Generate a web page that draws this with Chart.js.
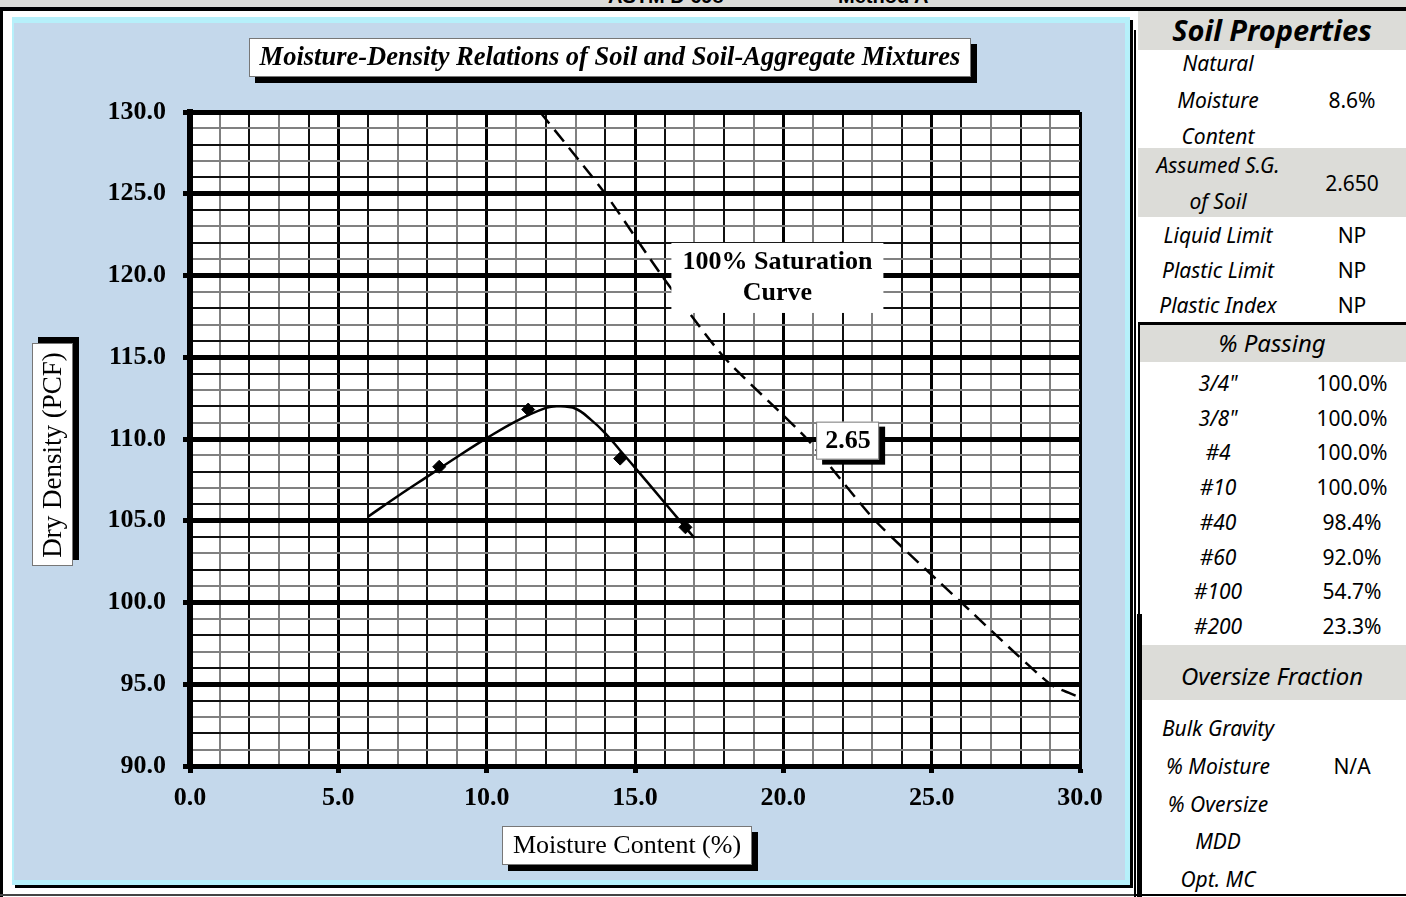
<!DOCTYPE html>
<html>
<head>
<meta charset="utf-8">
<script src="https://cdn.jsdelivr.net/npm/chart.js@4/dist/chart.umd.min.js"></script>
<style>
  html, body { margin: 0; padding: 0; background: #fff; }
  body { width: 1406px; height: 897px; position: relative; overflow: hidden; font-family: "Noto Sans", sans-serif; }
  #topstrip { position: absolute; left: 0; top: 0; width: 1406px; height: 7px; background: #dcdcd8; overflow: hidden; }
  #topstrip span { position: absolute; top: -15px; font: bold 20px "Liberation Sans", sans-serif; color: #000; }
  #topbar { position: absolute; left: 0; top: 7px; width: 1406px; height: 4px; background: #000; }
  #leftbar { position: absolute; left: 0; top: 7px; width: 3px; height: 890px; background: #000; }
  #bottombar { position: absolute; left: 0; top: 894px; width: 1136px; height: 2px; background: #444; }
  #panel { position: absolute; left: 12px; top: 17px; width: 1111px; height: 857px;
           border-style: solid; border-color: #b6f0fa; border-width: 6px 5px 5px 2px;
           background: #c4d8eb; box-shadow: 3px 3px 0 #000; }
  #chart { display: block; }
  #sidebar { position: absolute; left: 1134px; top: 11px; width: 272px; height: 886px; }
  .vline { position: absolute; background: #000; }
  .band { position: absolute; left: 4px; width: 268px; background: #dcdcd8; }
  .cell { position: absolute; text-align: center; font-size: 21px; line-height: 30px; color: #000; white-space: nowrap; }
  .lab { left: 4px; width: 160px; font-style: italic; }
  .val { left: 164px; width: 108px; }
  .head { left: 4px; width: 268px; font-style: italic; font-size: 24px; }
</style>
</head>
<body>
<div id="topstrip"><span style="left:608px">ASTM D 698</span><span style="left:838px">Method A</span></div>
<div id="topbar"></div>
<div id="leftbar"></div>
<div id="bottombar"></div>
<div id="panel"><canvas id="chart" width="1111" height="857"></canvas></div>
<div id="sidebar"></div>

<script>
// compaction test points
var moisture = [8.4, 11.4, 14.5, 16.7];
var density = [108.3, 111.8, 108.8, 104.6];

// fitted moisture-density curve
var curveMoisture = [6.0, 7.0, 8.0, 9.0, 10.0, 11.0, 12.0, 12.4, 13.0, 13.5, 14.0, 14.5, 15.0, 16.0, 17.0];
var curveDensity = [105.25, 106.5, 107.7, 108.9, 110.05, 111.1, 111.9, 112.0, 111.85, 111.2, 110.35, 109.3, 108.25, 106.1, 103.95];

// zero air voids line, Gs = 2.65
var satMoisture = [11.8, 14.0, 15.9, 18.0, 20.8, 23.1, 26.0, 29.0, 30.0];
var satDensity = [130.0, 125.0, 120.0, 115.0, 110.0, 105.0, 100.0, 95.0, 94.2];

var xTicks = [0, 5, 10, 15, 20, 25, 30];
var yTicks = [90, 95, 100, 105, 110, 115, 120, 125, 130];

// side table
var propLabels = ['Liquid Limit', 'Plastic Limit', 'Plastic Index'];
var propValues = ['NP', 'NP', 'NP'];
var naturalMoisture = '8.6%';
var specificGravity = '2.650';
var sieveSizes = ['3/4"', '3/8"', '#4', '#10', '#40', '#60', '#100', '#200'];
var percentPassing = ['100.0%', '100.0%', '100.0%', '100.0%', '98.4%', '92.0%', '54.7%', '23.3%'];
var oversizeLabels = ['Bulk Gravity', '% Moisture', '% Oversize', 'MDD', 'Opt. MC'];
var oversizeValues = ['', 'N/A', '', '', ''];

function pts(xs, ys) {
	return xs.map(function(x, i){ return {x: x, y: ys[i]}; });
}

var serif = '"Liberation Serif", serif';

function isMajor(v, list) { return list.indexOf(v) >= 0; }

function drawBox(ctx, x, y, w, h, shadow) {
	if (shadow) {
		ctx.fillStyle = '#000';
		ctx.fillRect(x + shadow[0], y + shadow[1], w, h);
	}
	ctx.fillStyle = '#fff';
	ctx.fillRect(x, y, w, h);
	if (shadow) {
		ctx.strokeStyle = '#777';
		ctx.lineWidth = 1;
		ctx.strokeRect(x + 0.5, y + 0.5, w - 1, h - 1);
	}
}

var backdrop = {
	id: 'backdrop',
	beforeDraw: function(chart){
		var ctx = chart.ctx, a = chart.chartArea;
		ctx.save();
		ctx.fillStyle = '#c4d8eb';
		ctx.fillRect(0, 0, chart.width, chart.height);
		ctx.fillStyle = '#fff';
		ctx.fillRect(a.left, a.top, a.right - a.left, a.bottom - a.top);
		ctx.restore();
	}
};

var labels = {
	id: 'labels',
	afterDraw: function(chart){
		var ctx = chart.ctx, xs = chart.scales.x, ys = chart.scales.y;
		ctx.save();
		ctx.textAlign = 'center';
		ctx.textBaseline = 'middle';

		// title
		drawBox(ctx, 235, 15, 722, 39, [6, 6]);
		ctx.fillStyle = '#000';
		ctx.font = 'italic bold 26.5px ' + serif;
		ctx.fillText('Moisture-Density Relations of Soil and Soil-Aggregate Mixtures', 596, 35);

		// saturation curve note
		var cx = xs.getPixelForValue(19.8), cy = ys.getPixelForValue(119.85);
		drawBox(ctx, cx - 106, cy - 35, 212, 70, null);
		ctx.fillStyle = '#000';
		ctx.font = 'bold 26px ' + serif;
		ctx.fillText('100% Saturation', cx, cy - 16);
		ctx.fillText('Curve', cx, cy + 15);

		// specific gravity tag
		var gx = xs.getPixelForValue(22.15), gy = ys.getPixelForValue(109.9);
		drawBox(ctx, gx - 31, gy - 19, 63, 38, [6, 5]);
		ctx.fillStyle = '#000';
		ctx.font = 'bold 26px ' + serif;
		ctx.fillText('2.65', gx + 1, gy + 1);

		// x axis title
		drawBox(ctx, 488, 803, 250, 39, [6, 6]);
		ctx.fillStyle = '#000';
		ctx.font = '26px ' + serif;
		ctx.fillText('Moisture Content (%)', 613, 823);

		// y axis title
		drawBox(ctx, 18, 320, 41, 223, [6, -6]);
		ctx.translate(39, 432);
		ctx.rotate(-Math.PI / 2);
		ctx.fillStyle = '#000';
		ctx.font = '27px ' + serif;
		ctx.fillText('Dry Density (PCF)', 0, 1);
		ctx.restore();
	}
};

new Chart(document.getElementById('chart'), {
	type: 'scatter',
	data: {
		datasets: [
			{
				data: pts(satMoisture, satDensity),
				showLine: true,
				borderColor: '#000',
				borderWidth: 2.5,
				borderDash: [15, 8],
				pointRadius: 0,
				tension: 0.2
			},
			{
				data: pts(curveMoisture, curveDensity),
				showLine: true,
				borderColor: '#000',
				borderWidth: 2.5,
				pointRadius: 0,
				tension: 0.4
			},
			{
				data: pts(moisture, density),
				showLine: false,
				pointStyle: 'rectRot',
				pointRadius: 6.5,
				backgroundColor: '#000',
				borderColor: '#000'
			}
		]
	},
	options: {
		responsive: false,
		animation: false,
		layout: { padding: { top: 89, right: 45, left: 0, bottom: 0 } },
		plugins: { legend: { display: false }, tooltip: { enabled: false } },
		scales: {
			x: {
				type: 'linear', min: 0, max: 30,
				afterFit: function(s){ s.height = 114; },
				ticks: {
					stepSize: 1, autoSkip: false, maxRotation: 0, padding: 10, color: '#000',
					font: { family: serif, size: 26, weight: 'bold' },
					callback: function(v){ return isMajor(v, xTicks) ? v.toFixed(1) : ''; }
				},
				grid: {
					tickLength: 7,
					color: function(c){ var v = c.tick.value; return isMajor(v, xTicks) ? '#000' : (v % 2 ? '#808080' : '#111'); },
					lineWidth: function(c){ return isMajor(c.tick.value, xTicks) ? 3 : 2; },
					tickColor: function(c){ return isMajor(c.tick.value, xTicks) ? '#000' : 'rgba(0,0,0,0)'; },
					tickWidth: 5
				},
				border: { color: '#000', width: 5 }
			},
			y: {
				type: 'linear', min: 90, max: 130,
				afterFit: function(s){ s.width = 176; },
				ticks: {
					stepSize: 1, autoSkip: false, padding: 17, color: '#000',
					font: { family: serif, size: 26, weight: 'bold' },
					callback: function(v){ return isMajor(v, yTicks) ? v.toFixed(1) : ''; }
				},
				grid: {
					tickLength: 7,
					color: function(c){ var v = c.tick.value; return isMajor(v, yTicks) ? '#000' : (v % 2 ? '#808080' : '#111'); },
					lineWidth: function(c){ return isMajor(c.tick.value, yTicks) ? 5 : 2; },
					tickColor: function(c){ return isMajor(c.tick.value, yTicks) ? '#000' : 'rgba(0,0,0,0)'; },
					tickWidth: 5
				},
				border: { color: '#000', width: 6 }
			}
		}
	},
	plugins: [backdrop, labels]
});

// side table, positions relative to #sidebar (top = 11)
var side = document.getElementById('sidebar');
function add(cls, text, top, css) {
	var d = document.createElement('div');
	d.className = cls;
	d.textContent = text;
	d.style.top = top + 'px';
	if (css) d.style.cssText += css;
	side.appendChild(d);
	return d;
}
function band(top, h) {
	var d = document.createElement('div');
	d.className = 'band';
	d.style.top = top + 'px';
	d.style.height = h + 'px';
	side.appendChild(d);
}
function vline(l, t, w, h) {
	var d = document.createElement('div');
	d.className = 'vline';
	d.style.cssText = 'left:' + l + 'px;top:' + t + 'px;width:' + w + 'px;height:' + h + 'px';
	side.appendChild(d);
}

band(0, 39);
band(137, 69);
band(314, 37);
band(634, 55);

vline(0, 19, 2, 867);
vline(3, 603, 5, 283);
vline(4, 311, 268, 3);
vline(4, 311, 2, 292);
vline(0, 883, 272, 2);

add('cell head', 'Soil Properties', 2, 'font-weight:bold;font-size:29px;line-height:34px');
add('cell lab', 'Natural', 37);
add('cell lab', 'Moisture', 74);
add('cell lab', 'Content', 110);
add('cell val', naturalMoisture, 74);
add('cell lab', 'Assumed S.G.', 139);
add('cell lab', 'of Soil', 175);
add('cell val', specificGravity, 157);
propLabels.forEach(function(l, i){
	add('cell lab', l, 209 + i * 35);
	add('cell val', propValues[i], 209 + i * 35);
});
add('cell head', '% Passing', 317);
sieveSizes.forEach(function(s, i){
	add('cell lab', s, 357 + i * 34.7);
	add('cell val', percentPassing[i], 357 + i * 34.7);
});
add('cell head', 'Oversize Fraction', 650);
oversizeLabels.forEach(function(l, i){
	add('cell lab', l, 702 + i * 37.8);
	add('cell val', oversizeValues[i], 702 + i * 37.8);
});
</script>
</body>
</html>
